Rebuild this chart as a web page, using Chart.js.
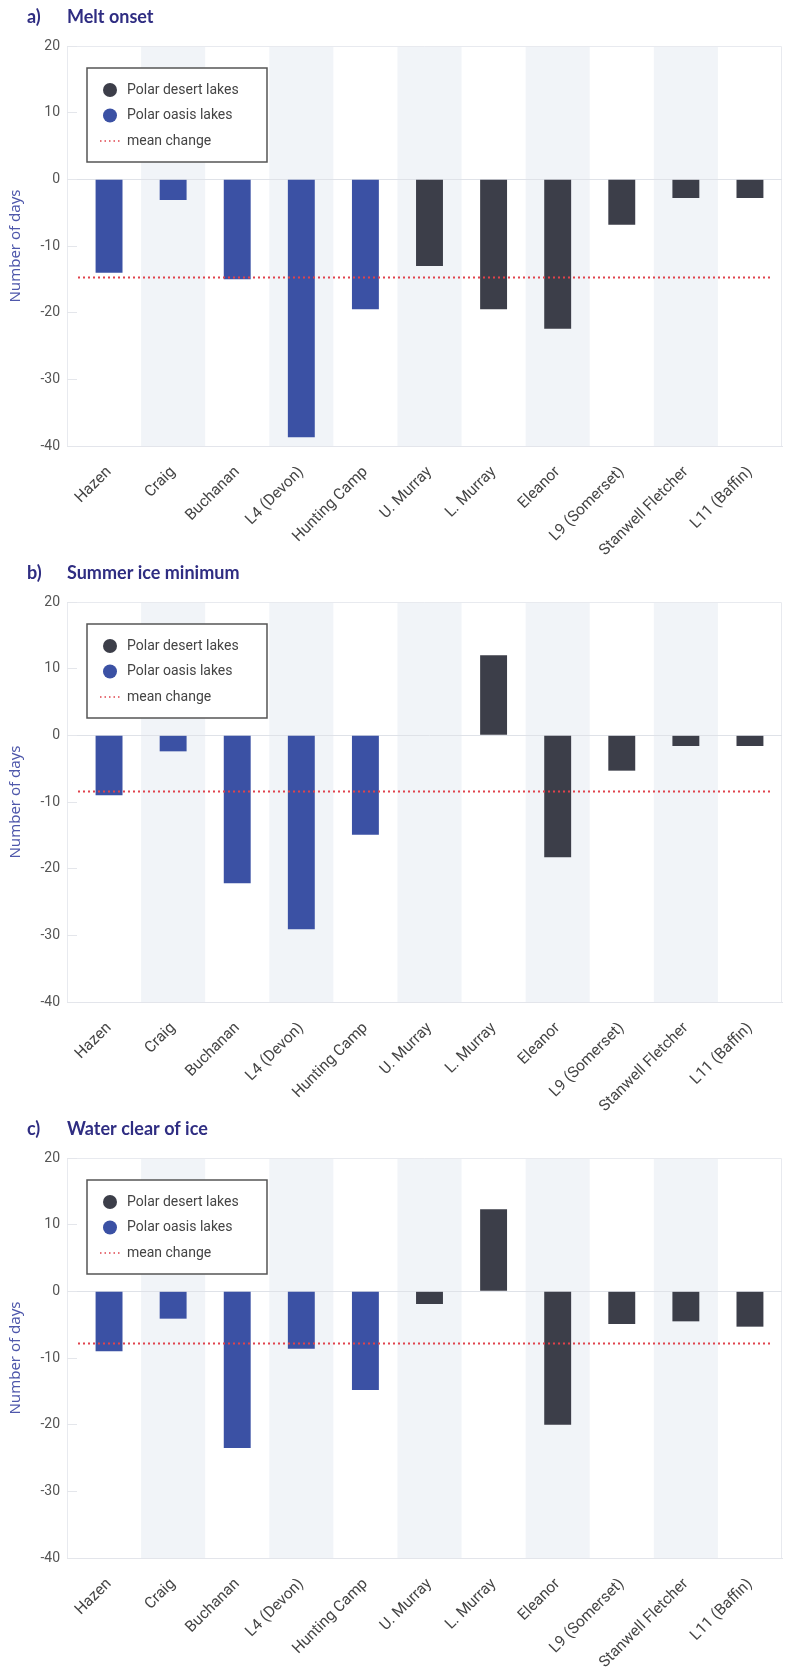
<!DOCTYPE html>
<html>
<head>
<meta charset="utf-8">
<script src="https://cdn.jsdelivr.net/npm/chart.js@4.4.1/dist/chart.umd.min.js"></script>
<style>
  body { margin: 0; background: #fff; }
  .panel { width: 785px; height: 556px; }
  canvas { display: block; }
</style>
</head>
<body>
<div class="panel"><canvas id="meltOnset" width="785" height="556"></canvas></div>
<div class="panel"><canvas id="iceMinimum" width="785" height="556"></canvas></div>
<div class="panel"><canvas id="clearOfIce" width="785" height="556"></canvas></div>
<script>
const lakes = ['Hazen', 'Craig', 'Buchanan', 'L4 (Devon)', 'Hunting Camp', 'U. Murray',
  'L. Murray', 'Eleanor', 'L9 (Somerset)', 'Stanwell Fletcher', 'L11 (Baffin)'];
const lakeType = ['oasis', 'oasis', 'oasis', 'oasis', 'oasis', 'desert',
  'desert', 'desert', 'desert', 'desert', 'desert'];

const meltOnset = [-14.0, -3.1, -15.0, -38.7, -19.5, -13.0, -19.5, -22.4, -6.8, -2.8, -2.8];
const iceMinimum = [-9.0, -2.4, -22.2, -29.1, -14.9, 0, 12.0, -18.3, -5.3, -1.6, -1.6];
const clearOfIce = [-9.0, -4.1, -23.5, -8.6, -14.8, -1.9, 12.3, -20.0, -4.9, -4.5, -5.3];
const meanChange = [-14.7, -8.3, -7.8];

const panelLetters = ['a)', 'b)', 'c)'];
const panelTitles = ['Melt onset', 'Summer ice minimum', 'Water clear of ice'];

const DESERT = '#3c3e49';
const OASIS = '#3b51a4';
const MEAN_RED = '#e0434c';

// alternating light bands behind every second lake, plus a faint frame
const shadeBands = {
  id: 'shadeBands',
  beforeDraw (chart) {
    const { ctx, chartArea: a, scales: { x } } = chart;
    const half = (x.getPixelForValue(1) - x.getPixelForValue(0)) / 2;
    ctx.save();
    ctx.fillStyle = '#f1f4f8';
    lakes.forEach((lake, i) => {
      if (i % 2 === 1) {
        const cx = x.getPixelForValue(i);
        ctx.fillRect(cx - half, a.top, half * 2, a.bottom - a.top);
      }
    });
    ctx.strokeStyle = '#e8eaef';
    ctx.lineWidth = 1;
    ctx.beginPath();
    ctx.moveTo(a.left - 10, a.top + 0.5);
    ctx.lineTo(a.right - 0.5, a.top + 0.5);
    ctx.lineTo(a.right - 0.5, a.bottom);
    ctx.moveTo(a.left - 9.5, a.top);
    ctx.lineTo(a.left - 9.5, a.bottom);
    ctx.stroke();
    ctx.restore();
  }
};

// red dotted mean line
const meanLine = {
  id: 'meanLine',
  afterDatasetsDraw (chart, args, opts) {
    const { ctx, chartArea: a, scales: { y } } = chart;
    const py = Math.round(y.getPixelForValue(opts.value)) + 0.5;
    ctx.save();
    ctx.strokeStyle = MEAN_RED;
    ctx.lineWidth = 2;
    ctx.setLineDash([2, 3]);
    ctx.beginPath();
    ctx.moveTo(a.left + 1, py);
    ctx.lineTo(a.right - 12, py);
    ctx.stroke();
    ctx.restore();
  }
};

// boxed legend in the top left of the plot
const boxLegend = {
  id: 'boxLegend',
  afterDraw (chart) {
    const { ctx, chartArea: a } = chart;
    const x0 = a.left + 10;
    const y0 = a.top + 22;
    ctx.save();
    ctx.fillStyle = '#ffffff';
    ctx.fillRect(x0, y0, 180, 94);
    ctx.strokeStyle = '#555555';
    ctx.lineWidth = 1.5;
    ctx.strokeRect(x0, y0, 180, 94);

    const items = [
      { label: 'Polar desert lakes', color: DESERT },
      { label: 'Polar oasis lakes', color: OASIS },
      { label: 'mean change', dotted: true }
    ];
    ctx.font = '14px Roboto';
    ctx.textBaseline = 'middle';
    items.forEach((item, i) => {
      const cy = y0 + 22 + i * 25.5;
      if (item.dotted) {
        ctx.strokeStyle = MEAN_RED;
        ctx.lineWidth = 1.5;
        ctx.setLineDash([1.5, 3]);
        ctx.beginPath();
        ctx.moveTo(x0 + 13, cy);
        ctx.lineTo(x0 + 34, cy);
        ctx.stroke();
        ctx.setLineDash([]);
      } else {
        ctx.fillStyle = item.color;
        ctx.beginPath();
        ctx.arc(x0 + 23, cy, 7, 0, Math.PI * 2);
        ctx.fill();
      }
      ctx.fillStyle = '#444444';
      ctx.fillText(item.label, x0 + 40, cy);
    });
    ctx.restore();
  }
};

// panel heading like "a)   Melt onset"
const panelTitle = {
  id: 'panelTitle',
  afterDraw (chart, args, opts) {
    const ctx = chart.ctx;
    ctx.save();
    ctx.fillStyle = '#2f2d82';
    ctx.font = 'bold 18px Lato';
    ctx.textBaseline = 'middle';
    ctx.fillText(opts.letter, 27, 17);
    ctx.fillText(opts.text, 67, 17);
    ctx.restore();
  }
};

function makePanel (id, values, idx) {
  const oasis = values.map((v, i) => lakeType[i] === 'oasis' ? v : null);
  const desert = values.map((v, i) => lakeType[i] === 'desert' ? v : null);

  return new Chart(document.getElementById(id), {
    type: 'bar',
    data: {
      labels: lakes,
      datasets: [
        { label: 'Polar desert lakes', data: desert, backgroundColor: DESERT },
        { label: 'Polar oasis lakes', data: oasis, backgroundColor: OASIS }
      ]
    },
    options: {
      responsive: false,
      animation: false,
      layout: { padding: { top: 46, right: 3, left: 0, bottom: 0 } },
      datasets: {
        bar: { grouped: false, barPercentage: 0.42, categoryPercentage: 1 }
      },
      scales: {
        x: {
          afterFit: (scale) => { scale.height = 110; },
          grid: { display: false },
          border: { display: true, color: '#e3e5eb' },
          ticks: {
            autoSkip: false,
            maxRotation: 45,
            minRotation: 45,
            padding: 9,
            color: '#444444',
            font: { family: 'Roboto', size: 15.5 }
          }
        },
        y: {
          min: -40,
          max: 20,
          afterFit: (scale) => { scale.width = 77; },
          border: { display: false },
          grid: {
            color: (c) => c.tick.value === 0 ? '#dfe2e8' : (c.tick.value === -40 ? '#e3e5eb' : 'transparent'),
            tickColor: '#e4e6eb',
            tickLength: 10
          },
          ticks: {
            stepSize: 10,
            padding: 7,
            color: '#555555',
            font: { family: 'Roboto', size: 14 }
          },
          title: {
            display: true,
            text: 'Number of days',
            color: '#4f58ab',
            padding: { top: 7, bottom: 0 },
            font: { family: 'Noto Sans', size: 15 }
          }
        }
      },
      plugins: {
        legend: { display: false },
        tooltip: { enabled: false },
        meanLine: { value: meanChange[idx] },
        panelTitle: { letter: panelLetters[idx], text: panelTitles[idx] }
      }
    },
    plugins: [shadeBands, meanLine, boxLegend, panelTitle]
  });
}

makePanel('meltOnset', meltOnset, 0);
makePanel('iceMinimum', iceMinimum, 1);
makePanel('clearOfIce', clearOfIce, 2);
</script>
</body>
</html>
